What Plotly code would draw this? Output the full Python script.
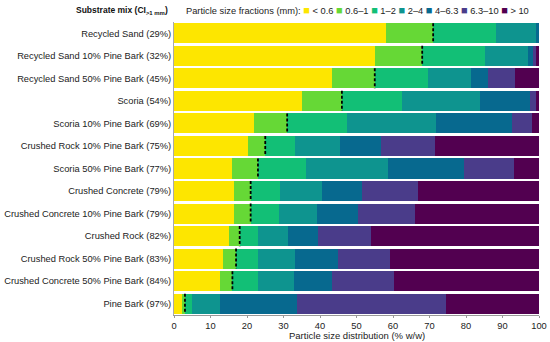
import plotly.graph_objects as go

categories = [
    "Recycled Sand (29%)",
    "Recycled Sand 10% Pine Bark (32%)",
    "Recycled Sand 50% Pine Bark (45%)",
    "Scoria (54%)",
    "Scoria 10% Pine Bark (69%)",
    "Crushed Rock 10% Pine Bark (75%)",
    "Scoria 50% Pine Bark (77%)",
    "Crushed Concrete (79%)",
    "Crushed Concrete 10% Pine Bark (79%)",
    "Crushed Rock (82%)",
    "Crushed Rock 50% Pine Bark (83%)",
    "Crushed Concrete 50% Pine Bark (84%)",
    "Pine Bark (97%)",
]
ci_gt1 = [29, 32, 45, 54, 69, 75, 77, 79, 79, 82, 83, 84, 97]

fraction_names = ["< 0.6", "0.6–1", "1–2", "2–4", "4–6.3", "6.3–10", "> 10"]
f_lt06 = [58, 55, 43.3, 35, 22, 20.3, 16, 16.4, 16.4, 15.1, 13.3, 12.6, 2.1]
f_06_1 = [13, 13, 11.7, 11, 9, 4.7, 7, 4.6, 4.6, 2.9, 3.7, 3.4, 0.9]
f_1_2 = [17.1, 17.1, 14.6, 16.6, 16.4, 8.1, 13.1, 8.0, 7.7, 5.0, 5.9, 6.9, 1.8]
f_2_4 = [11.2, 12.0, 11.7, 21.2, 24.5, 12.3, 22.6, 11.6, 10.5, 8.2, 10.2, 9.9, 7.8]
f_4_63 = [0.7, 1.3, 4.7, 13.8, 20.8, 11.4, 20.8, 10.8, 11.3, 8.2, 11.7, 10.5, 21.2]
f_63_10 = [0, 0.9, 7.3, 1.7, 5.3, 14.6, 13.6, 15.5, 15.5, 14.7, 14.5, 16.9, 40.6]
f_gt10 = [0, 0.7, 6.7, 0.7, 2.0, 28.6, 6.9, 33.1, 34.0, 45.9, 40.7, 39.8, 25.6]

colors = ["#fde600", "#66d836", "#12bf76", "#0e948f", "#07698f", "#4a3c8a", "#520050"]
series = [f_lt06, f_06_1, f_1_2, f_2_4, f_4_63, f_63_10, f_gt10]

FONT = "Liberation Sans, Arial, sans-serif"
ypos = list(range(len(categories)))
BW = 0.89

fig = go.Figure()
for name, vals, col in zip(fraction_names, series, colors):
    fig.add_trace(go.Bar(
        x=vals, y=ypos, orientation="h", name=name, width=BW,
        marker=dict(color=col, line=dict(width=0)), showlegend=False,
    ))

# dashed CI>1mm markers
lx, ly = [], []
for i, c in enumerate(ci_gt1):
    lx += [100 - c, 100 - c, None]
    ly += [i - BW / 2, i + BW / 2, None]
fig.add_trace(go.Scatter(x=lx, y=ly, mode="lines", showlegend=False,
                         line=dict(color="black", width=1.8, dash="3px,2px")))

legend_txt = "Particle size fractions (mm): " + " ".join(
    f"<span style='color:{c};font-size:11px'>■</span> {n.replace('<', '&lt;').replace('>', '&gt;')}"
    for n, c in zip(fraction_names, colors)
)

fig.update_layout(
    width=550, height=342,
    margin=dict(l=174, r=11, t=22, b=27),
    barmode="stack",
    plot_bgcolor="white", paper_bgcolor="white",
    font=dict(family=FONT, size=9, color="#222"),
    xaxis=dict(range=[0, 100], tickvals=list(range(0, 101, 10)), showgrid=False,
               zeroline=False, showline=True, linecolor="#999", linewidth=1,
               ticks="outside", ticklen=2, tickcolor="#999", automargin=False,
               tickfont=dict(size=9.3)),
    yaxis=dict(range=[len(categories) - 0.5, -0.5], tickvals=ypos, ticktext=categories,
               showgrid=False, zeroline=False, showline=True, linecolor="#aaa",
               linewidth=1, ticks="", tickfont=dict(size=9.3), automargin=False),
    annotations=[
        dict(text="<b>Substrate mix (CI<sub>&gt;1 mm</sub>)</b>", xref="paper", yref="paper",
             x=-0.01, y=1.0, yshift=12, xanchor="right", yanchor="middle",
             showarrow=False, font=dict(size=8.5, color="#111")),
        dict(text=legend_txt, xref="paper", yref="paper", x=0.027, y=1.0, yshift=12,
             xanchor="left", yanchor="middle", showarrow=False,
             font=dict(size=9.3, color="#222")),
        dict(text="Particle size distribution (% w/w)", xref="paper", yref="paper",
             x=0.5, y=0, yshift=-20, xanchor="center", yanchor="middle",
             showarrow=False, font=dict(size=9.5, color="#222")),
    ],
)

fig.write_html("out.html", config={"displayModeBar": False},
               post_script="document.body.style.margin='0';document.body.style.overflow='hidden';")
